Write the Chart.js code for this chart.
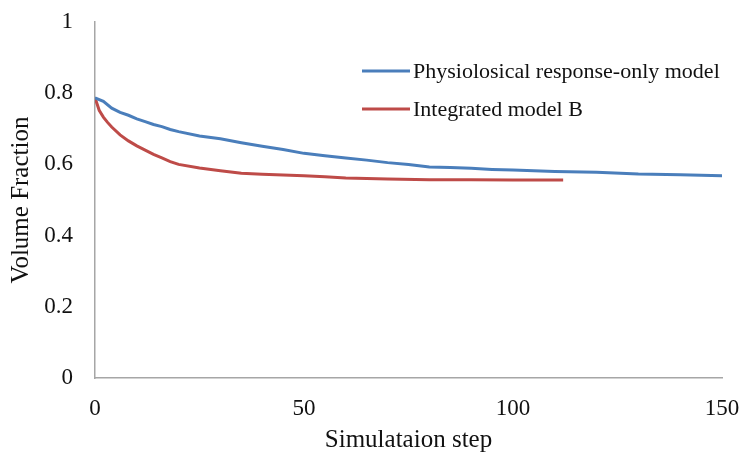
<!DOCTYPE html>
<html>
<head>
<meta charset="utf-8">
<script src="https://cdn.jsdelivr.net/npm/chart.js@4/dist/chart.umd.min.js"></script>
<style>
  html, body { margin: 0; padding: 0; background: #fff; }
  #wrap { width: 741px; height: 460px; }
</style>
</head>
<body>
<div id="wrap"><canvas id="chart"></canvas></div>
<script>
// Physiological response-only model (blue)
var blueSteps = [0, 2, 4, 6, 8, 10, 12, 14, 16, 18, 20, 25, 30, 35, 40, 45, 50, 55, 60, 65, 70, 75, 80, 85, 90, 95, 100, 110, 120, 130, 140, 150];
var blueValues = [0.787, 0.777, 0.758, 0.746, 0.738, 0.728, 0.72, 0.712, 0.706, 0.698, 0.692, 0.68, 0.672, 0.661, 0.651, 0.642, 0.631, 0.624, 0.618, 0.612, 0.605, 0.6, 0.593, 0.591, 0.589, 0.586, 0.584, 0.58, 0.578, 0.573, 0.571, 0.568];

// Integrated model B (red)
var redSteps = [0, 1, 2, 3, 4, 6, 8, 10, 12, 14, 16, 18, 20, 25, 30, 35, 40, 45, 50, 55, 60, 70, 80, 90, 100, 112];
var redValues = [0.787, 0.752, 0.733, 0.718, 0.705, 0.683, 0.666, 0.652, 0.64, 0.628, 0.618, 0.608, 0.6, 0.59, 0.582, 0.575, 0.572, 0.57, 0.568, 0.565, 0.562, 0.559, 0.557, 0.557, 0.556, 0.556];

var seriesLabels = ['Physiolosical response-only model', 'Integrated model B'];
var xTicks = [0, 50, 100, 150];
var yTicks = [0, 0.2, 0.4, 0.6, 0.8, 1];

function toPoints(xs, ys) {
    return xs.map(function(x, i) { return { x: x, y: ys[i] }; });
}

var serif = '"Liberation Serif", "Times New Roman", serif';

// Legend drawn inside the plot area, like the original
var insideLegend = {
    id: 'insideLegend',
    afterDraw: function(chart) {
        var ctx = chart.ctx;
        var rows = [71, 109];
        ctx.save();
        ctx.font = '22px ' + serif;
        ctx.textBaseline = 'middle';
        chart.data.datasets.forEach(function(ds, i) {
            var y = rows[i];
            ctx.strokeStyle = ds.borderColor;
            ctx.lineWidth = 3;
            ctx.beginPath();
            ctx.moveTo(362, y);
            ctx.lineTo(410, y);
            ctx.stroke();
            ctx.fillStyle = '#111';
            ctx.fillText(ds.label, 413, y + 1);
        });
        ctx.restore();
    }
};

var ctx = document.getElementById('chart').getContext('2d');
var chart = new Chart(ctx, {
    type: 'line',
    data: {
        datasets: [{
            label: seriesLabels[0],
            data: toPoints(blueSteps, blueValues),
            borderColor: '#4a7ebb',
            borderWidth: 3,
            pointRadius: 0,
            tension: 0,
            fill: false
        }, {
            label: seriesLabels[1],
            data: toPoints(redSteps, redValues),
            borderColor: '#be4b48',
            borderWidth: 3,
            pointRadius: 0,
            tension: 0,
            fill: false
        }]
    },
    options: {
        responsive: true,
        maintainAspectRatio: false,
        animation: false,
        layout: { padding: { top: 22, right: 19, left: 0, bottom: 0 } },
        plugins: {
            legend: { display: false },
            tooltip: { enabled: false }
        },
        scales: {
            x: {
                type: 'linear',
                min: 0,
                max: 150,
                afterBuildTicks: function(axis) {
                    axis.ticks = xTicks.map(function(v) { return { value: v }; });
                },
                afterFit: function(axis) {
                    axis.height = 82;
                    axis.paddingLeft = 0;
                    axis.paddingRight = 0;
                },
                grid: { display: false, drawTicks: false },
                border: { color: '#a6a6a6', width: 1.5 },
                ticks: { color: '#111', font: { family: serif, size: 23 }, padding: 17, maxRotation: 0 },
                title: { display: true, text: 'Simulataion step', color: '#111', font: { family: serif, size: 25 }, padding: { top: 5, bottom: 5 } }
            },
            y: {
                min: 0,
                max: 1,
                afterBuildTicks: function(axis) {
                    axis.ticks = yTicks.map(function(v) { return { value: v }; });
                },
                afterFit: function(axis) {
                    axis.width = 95;
                    axis.paddingTop = 0;
                    axis.paddingBottom = 0;
                },
                grid: { display: false, drawTicks: false },
                border: { color: '#a6a6a6', width: 1.5 },
                ticks: {
                    color: '#111',
                    font: { family: serif, size: 23 },
                    padding: 22,
                    callback: function(v) { return String(v); }
                },
                title: { display: true, text: 'Volume Fraction', color: '#111', font: { family: serif, size: 25 }, padding: { top: 6, bottom: 6 } }
            }
        }
    },
    plugins: [insideLegend]
});
</script>
</body>
</html>
